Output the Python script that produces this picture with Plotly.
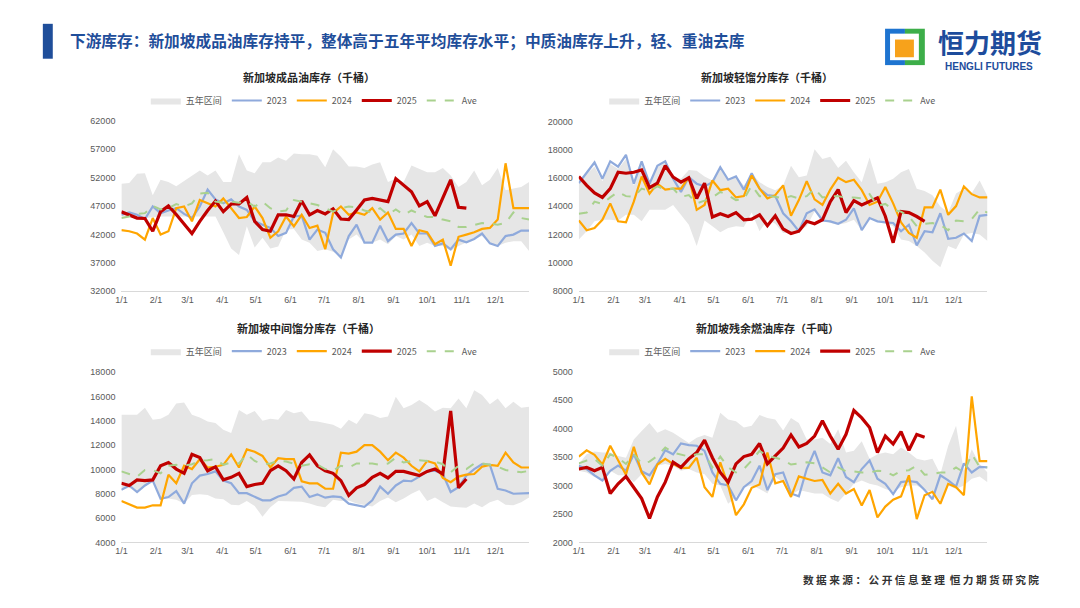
import pandas as pd
import plotly.graph_objects as go

# ── weekly x positions and month ticks ──────────────────────────────────────
WEEKS = pd.date_range("2025-01-01", periods=53, freq="7D")
MONTH_TICKS = ["2025-%02d-01" % m for m in range(1, 13)]
MONTH_LABELS = ["%d/1" % m for m in range(1, 13)]

# ── 新加坡成品油库存（千桶） ──────────────────────────────────────────────
TOTAL_LOW = [45150, 45150, 45150, 44870, 45050, 45150, 45150, 45150, 45150, 45050,
             45050, 45050, 45150, 42380, 39500, 38350, 43420, 39670, 41400, 39500,
             39850, 42850, 42960, 41080, 40530, 39090, 39380, 38920, 38230, 41080,
             41960, 40530, 40530, 41080, 40250, 41700, 41080, 41960, 39960, 40530,
             39960, 39960, 39090, 39960, 40600, 41200, 41700, 40530, 39960, 40530,
             40800, 40800, 39090]
TOTAL_HIGH = [50920, 51040, 52650, 52770, 48900, 51600, 51200, 50460, 51380, 52360,
              53230, 52360, 53230, 51200, 51200, 56100, 53230, 52770, 54670, 54670,
              55540, 54960, 56230, 56100, 56100, 55830, 53810, 56980, 55660, 53930,
              53930, 53690, 54270, 54670, 51200, 51800, 51200, 54100, 53520, 52940,
              52940, 53690, 52360, 50340, 51200, 53230, 50630, 51600, 53690, 49770,
              50050, 50340, 51200]
TOTAL_2023 = [45440, 45850, 45440, 44700, 46900, 45730, 46200, 46600, 45600, 44870,
              46900, 49880, 48150, 47460, 48150, 46900, 46300, 44300, 43700, 43130,
              41700, 42270, 45150, 45270, 41080, 42850, 42270, 39380, 37940, 41700,
              43700, 40530, 40530, 43530, 40800, 41960, 42150, 44000, 42150, 42150,
              39960, 40420, 39380, 41080, 40600, 41200, 42150, 40420, 39960, 41700,
              41960, 42670, 42670]
TOTAL_2024 = [42730, 42550, 42150, 41080, 44870, 41960, 42550, 46600, 46900, 44300,
              48040, 47460, 46900, 48330, 46600, 44870, 45050, 46900, 44870, 41400,
              42550, 45150, 43420, 45440, 43130, 43530, 39380, 45730, 46900, 45440,
              45850, 45440, 46600, 44600, 45850, 42960, 42960, 39960, 42730, 42380,
              40250, 41080, 36500, 41570, 41960, 42380, 42960, 43130, 44600, 54500,
              46600, 46600, 46600]
TOTAL_2025 = [45960, 45440, 44870, 44800, 42550, 46000, 47000, 45500, 43900, 42150,
              44300, 46200, 47860, 46000, 47340, 47340, 48500, 44300, 42850, 42550,
              45440, 45440, 45150, 47860, 45440, 46200, 45600, 46500, 44700, 44600,
              46300, 48040, 48330, 48040, 47750, 51800, 50630, 49480, 47000, 47750,
              45270, 48300, 51600, 46770, 46600]
TOTAL_AVE = [44870, 45150, 45600, 45730, 47000, 46400, 46600, 47340, 46900, 47460,
             49200, 49300, 47750, 47580, 47750, 47580, 47750, 46900, 47750, 46600,
             46000, 46200, 48040, 47750, 47580, 47170, 46600, 46000, 46600, 46900,
             46770, 46200, 45850, 46600, 45440, 46400, 45440, 46200, 45600, 45050,
             45050, 44600, 44300, 43300, 43300, 43700, 44000, 43880, 43700, 44000,
             45850, 44870, 44600]

# ── 新加坡轻馏分库存（千桶） ──────────────────────────────────────────────
LIGHT_LOW = [11660, 12240, 12940, 13050, 13050, 13000, 13400, 13400, 12940, 13750,
             13750, 13750, 14100, 13400, 12700, 11200, 13000, 12590, 12170, 12470,
             12590, 12540, 13560, 12240, 13050, 12770, 12120, 12120, 12240, 12590,
             13630, 13050, 12820, 12700, 12820, 13050, 12310, 13170, 12940, 12820,
             12590, 11660, 11550, 11200, 10740, 10160, 9690, 11200, 10970, 12010,
             12120, 12010, 11550]
LIGHT_HIGH = [15640, 16300, 16800, 15780, 17000, 16640, 17340, 15480, 17000, 15480,
              16760, 17100, 16020, 15950, 16570, 16520, 16110, 15830, 16760, 15880,
              16110, 15480, 16300, 15710, 15370, 15140, 15480, 16870, 16060, 16180,
              18030, 17340, 17500, 16710, 17220, 16410, 15710, 17450, 15600, 15710,
              15950, 16410, 16640, 15250, 15090, 14790, 13980, 13560, 14900, 15250,
              14950, 15830, 14720]
LIGHT_2023 = [15640, 16410, 17100, 15950, 17180, 16800, 17640, 15600, 17180, 15600,
              16870, 17180, 15950, 15020, 16060, 15600, 15410, 15710, 16760, 15880,
              16110, 15180, 16340, 15250, 14790, 14720, 13510, 12940, 12240, 13510,
              13790, 13000, 12940, 12770, 13050, 13860, 12310, 13170, 12940, 12870,
              12820, 12240, 12700, 11240, 12240, 12170, 13510, 11710, 11780, 12080,
              11550, 13330, 13400]
LIGHT_2024 = [13000, 12310, 12470, 13050, 14210, 12940, 12870, 14330, 16110, 14900,
              15600, 15180, 15250, 15250, 16060, 13750, 14100, 15830, 15140, 15250,
              14630, 14720, 16180, 15250, 14560, 14790, 15480, 13330, 14440, 15780,
              14490, 14100, 15180, 16020, 15710, 15880, 15140, 14100, 14330, 15370,
              14210, 12870, 12120, 11780, 13930, 13930, 15180, 13400, 14020, 15410,
              14860, 14630, 14630]
LIGHT_2025 = [16110, 15480, 14950, 14630, 15250, 16410, 16340, 16410, 16570, 15320,
              15640, 16870, 16060, 15710, 16020, 14560, 15640, 13240, 13470, 13280,
              13560, 13050, 13100, 13400, 12630, 13330, 12400, 12080, 12240, 12940,
              12770, 13050, 14330, 15180, 13560, 14400, 14100, 14330, 14600, 13300,
              11430, 13630, 13560, 13280, 12940]
LIGHT_AVE = [13470, 13560, 14330, 14170, 14630, 15020, 14720, 14670, 15250, 15090,
             15410, 15180, 15250, 14670, 14790, 14210, 14400, 14630, 15020, 14790,
             14440, 14490, 15480, 14720, 14720, 14670, 14560, 14720, 14560, 14720,
             15250, 14630, 14720, 14720, 14630, 14630, 14560, 14860, 14020, 14170,
             13750, 13630, 13280, 12590, 12770, 12820, 12700, 12310, 13000, 12940,
             13100, 13790, 13560]

# ── 新加坡中间馏分库存（千桶） ────────────────────────────────────────────
MIDDLE_LOW = [8300, 8500, 8100, 8600, 9000, 7550, 7600, 7500, 7200, 7900,
              7950, 7900, 7600, 7550, 7100, 7050, 7400, 7000, 6100, 6900,
              7400, 7400, 7400, 7350, 7200, 7000, 6900, 7500, 7400, 7450,
              7200, 7050, 6950, 7400, 7700, 7300, 7600, 8000, 8300, 7400,
              7700, 7300, 6950, 6900, 6850, 7200, 6900, 7300, 7500, 7100,
              7050, 7300, 7700]
MIDDLE_HIGH = [14490, 14490, 14490, 15080, 14080, 14160, 14490, 15430, 15510, 14490,
               14270, 13950, 13810, 13270, 13000, 14890, 14490, 14810, 14000, 14160,
               14080, 14890, 14620, 14760, 14000, 13950, 13810, 13680, 13350, 14080,
               13730, 14620, 14490, 14220, 14350, 15970, 15030, 15300, 15700, 15300,
               14760, 15080, 15030, 15840, 15030, 16510, 16110, 15350, 15840, 15030,
               15570, 15080, 15160]
MIDDLE_2023 = [8320, 8680, 8140, 8680, 9080, 7590, 7730, 8220, 7190, 8860,
               9490, 9620, 9840, 9080, 8860, 8050, 8050, 7780, 7460, 7460,
               7780, 7950, 8490, 8590, 7730, 7950, 7680, 7780, 7730, 7190,
               7050, 6920, 7460, 8590, 8000, 8680, 9080, 9030, 9410, 9840,
               9890, 9620, 8140, 8540, 9490, 10030, 10430, 10380, 8410, 8270,
               8000, 8050, 8050]
MIDDLE_2024 = [7410, 7140, 6860, 6860, 7050, 7050, 9570, 8860, 10300, 10030,
               10840, 10160, 10220, 10380, 11240, 10160, 11650, 11460, 11110, 10160,
               10920, 10840, 10840, 9030, 8860, 8860, 8410, 8410, 11380, 11300,
               11460, 12000, 12000, 11460, 10760, 11380, 10970, 10300, 9840, 10700,
               10490, 9300, 8950, 9410, 9570, 9620, 10220, 10380, 10300, 11380,
               10570, 10160, 10160]
MIDDLE_2025 = [8860, 8680, 9140, 9080, 9140, 10300, 10570, 10030, 9680, 11240,
               10970, 9890, 10220, 9140, 9350, 9680, 8590, 8760, 8860, 9890,
               10300, 9890, 9210, 10570, 11190, 10300, 9890, 9680, 9080, 7860,
               8490, 8760, 9350, 9680, 9300, 9840, 9840, 9680, 9490, 9840,
               10030, 9620, 14810, 8490, 9210]
MIDDLE_AVE = [9840, 9620, 9410, 9950, 9950, 9680, 10300, 10380, 10300, 10430,
              10700, 10760, 10840, 10380, 10570, 10490, 11240, 10700, 10430, 10490,
              10700, 10650, 10490, 10300, 10430, 10380, 10030, 9890, 10300, 10160,
              10490, 10490, 10490, 10380, 10490, 10970, 10570, 10700, 10760, 10700,
              10650, 10430, 9760, 10300, 10030, 10490, 10490, 10380, 10220, 9950,
              9840, 9760, 9890]

# ── 新加坡残余燃油库存（千吨） ────────────────────────────────────────────
RESID_LOW = [3260, 3230, 3150, 3120, 3260, 3180, 3180, 3060, 3200, 3090,
             3350, 3380, 3350, 3260, 3290, 3230, 3200, 3030, 3000, 2680,
             2800, 2970, 3000, 2940, 2860, 3150, 3060, 2830, 2920, 2890,
             2860, 2860, 2770, 2710, 2860, 3030, 3090, 3030, 3000, 2940,
             2890, 2970, 3000, 3000, 2920, 2890, 2740, 3000, 2940, 3000,
             3120, 3160, 3060]
RESID_HIGH = [3380, 3550, 3600, 3580, 3580, 3520, 3490, 3810, 3960, 4100,
              3930, 3990, 3930, 3840, 3750, 3840, 3890, 3840, 4280, 4160,
              4130, 4020, 4050, 4240, 4190, 4160, 3970, 4190, 4100, 3810,
              3810, 3840, 3730, 3990, 3580, 3610, 3780, 3470, 3550, 3580,
              3550, 3670, 3580, 3470, 3440, 3470, 3200, 3700, 4050, 3260,
              3640, 3380, 3230]
RESID_2023 = [3350, 3290, 3180, 3090, 3260, 3350, 3260, 3550, 3250, 3180,
              3380, 3620, 3550, 3740, 3710, 3700, 3610, 3230, 3030, 3000,
              2740, 2970, 3080, 3350, 2920, 3200, 3230, 2860, 2810, 3290,
              3610, 3230, 3180, 3480, 3150, 3060, 3290, 3440, 3120, 3030,
              2850, 3060, 3080, 3060, 2920, 2760, 3180, 3090, 2980, 3390,
              3230, 3330, 3320]
RESID_2024 = [3510, 3620, 3540, 3370, 3700, 3440, 3190, 3680, 3230, 3020,
              3370, 3470, 3380, 3310, 3310, 3490, 2970, 2800, 3410, 3000,
              2480, 2670, 2960, 3020, 3580, 3040, 3080, 2800, 3160, 3120,
              3080, 3100, 2860, 3030, 2860, 2940, 2650, 2920, 2440, 2630,
              2750, 2810, 3180, 2410, 2830, 2890, 2680, 3030, 2970, 2830,
              4570, 3430, 3430]
RESID_2025 = [3290, 3320, 3260, 3320, 2860, 3030, 3160, 2970, 2770, 2420,
              2800, 3060, 3410, 3320, 3470, 3580, 3800, 3490, 3230, 3060,
              3380, 3510, 3550, 3740, 3380, 3520, 3660, 3890, 3680, 3740,
              3870, 4140, 3870, 3640, 3900, 4320, 4190, 4020, 3580, 3870,
              3730, 3950, 3620, 3900, 3850]
RESID_AVE = [3390, 3440, 3470, 3350, 3550, 3490, 3380, 3550, 3390, 3420,
             3520, 3670, 3580, 3540, 3510, 3550, 3550, 3320, 3510, 3320,
             3230, 3290, 3440, 3610, 3520, 3490, 3450, 3370, 3390, 3410,
             3390, 3320, 3230, 3320, 3250, 3250, 3230, 3230, 3260, 3250,
             3180, 3260, 3270, 3350, 3190, 3200, 3230, 3230, 3320, 3230,
             3550, 3330, 3320]

# ── styles ───────────────────────────────────────────────────────────────────
BAND_COLOR = "#E6E6E6"
C2023 = "#8FAADC"
C2024 = "#FFA500"
C2025 = "#C00000"
CAVE = "#A9D18E"
TICK_FONT = dict(family="Liberation Sans, Arial, sans-serif", size=9, color="#595959")
CJK = "Noto Sans CJK SC"

# the page adds an 8px body margin round the figure, so the figure is sized
# 1064x592 and everything is placed by window pixel through these helpers
FIG_W, FIG_H, PAD = 1064, 592, 8


def X(px):
    return (px - PAD) / FIG_W


def Y(py):
    return 1 - (py - PAD) / FIG_H


# panel: (title, data, y-range, dtick, x px, y px, title xy px, legend xy px)
PANELS = [
    ("新加坡成品油库存（千桶）",
     (TOTAL_LOW, TOTAL_HIGH, TOTAL_2023, TOTAL_2024, TOTAL_2025, TOTAL_AVE),
     [32000, 62000], 5000, (116, 526), (117.5, 291), (305, 73), (310, 97)),
    ("新加坡轻馏分库存（千桶）",
     (LIGHT_LOW, LIGHT_HIGH, LIGHT_2023, LIGHT_2024, LIGHT_2025, LIGHT_AVE),
     [8000, 20000], 2000, (576, 987), (118.3, 291), (765, 73), (771, 97)),
    ("新加坡中间馏分库存（千桶）",
     (MIDDLE_LOW, MIDDLE_HIGH, MIDDLE_2023, MIDDLE_2024, MIDDLE_2025, MIDDLE_AVE),
     [4000, 18000], 2000, (116, 526), (373.3, 546.5), (304, 328), (310, 352)),
    ("新加坡残余燃油库存（千吨）",
     (RESID_LOW, RESID_HIGH, RESID_2023, RESID_2024, RESID_2025, RESID_AVE),
     [2000, 5000], 500, (576, 987), (373, 546.5), (766, 328), (771, 352)),
]

fig = go.Figure()
layout = {}
annotations = []

for i, (title, data, yr, dt, xpx, ypx, tpx, lpx) in enumerate(PANELS, start=1):
    low, high, y23, y24, y25, ave = data
    xa, ya = ("x", "y") if i == 1 else ("x%d" % i, "y%d" % i)
    leg = "legend" if i == 1 else "legend%d" % i
    common = dict(xaxis=xa, yaxis=ya, legend=leg)

    fig.add_trace(go.Scatter(x=WEEKS, y=low, mode="lines", line=dict(width=0),
                             showlegend=False, hoverinfo="skip", **common))
    fig.add_trace(go.Scatter(x=WEEKS, y=high, mode="lines", line=dict(width=0),
                             fill="tonexty", fillcolor=BAND_COLOR, name="五年区间", **common))
    fig.add_trace(go.Scatter(x=WEEKS, y=y23, mode="lines", name="2023",
                             line=dict(color=C2023, width=2.2), **common))
    fig.add_trace(go.Scatter(x=WEEKS, y=y24, mode="lines", name="2024",
                             line=dict(color=C2024, width=2.2), **common))
    fig.add_trace(go.Scatter(x=WEEKS[:len(y25)], y=y25, mode="lines", name="2025",
                             line=dict(color=C2025, width=3.2), **common))
    fig.add_trace(go.Scatter(x=WEEKS, y=ave, mode="lines", name="Ave",
                             line=dict(color=CAVE, width=2, dash="dash"), **common))

    xkey = "xaxis" if i == 1 else "xaxis%d" % i
    ykey = "yaxis" if i == 1 else "yaxis%d" % i
    layout[xkey] = dict(
        domain=[X(xpx[0]), X(xpx[1])], anchor=ya, type="date",
        range=["2025-01-01", "2025-12-31"],
        tickvals=MONTH_TICKS, ticktext=MONTH_LABELS,
        showgrid=False, zeroline=False, showline=True,
        linecolor="#D9D9D9", linewidth=1, ticks="",
        tickfont=TICK_FONT,
    )
    layout[ykey] = dict(
        domain=[Y(ypx[1]), Y(ypx[0])], anchor=xa, range=yr, dtick=dt, tick0=yr[0],
        tickformat="d", showgrid=False, zeroline=False, showline=False, ticks="",
        tickfont=TICK_FONT, ticklabelstandoff=5,
    )
    layout[leg] = dict(
        orientation="h", x=X(lpx[0]), y=Y(lpx[1]), xanchor="center", yanchor="middle",
        font=dict(family=CJK, size=9, color="#595959"), traceorder="normal",
        bgcolor="rgba(0,0,0,0)", itemwidth=30, tracegroupgap=0,
    )
    annotations.append(dict(
        text="<b>%s</b>" % title, x=X(tpx[0]), y=Y(tpx[1]), xref="paper", yref="paper",
        xanchor="center", yanchor="middle", showarrow=False,
        font=dict(family=CJK, size=11, color="#262626"),
    ))

# ── header, logo, source ────────────────────────────────────────────────────
annotations += [
    dict(text="<b>下游库存：新加坡成品油库存持平，整体高于五年平均库存水平；中质油库存上升，轻、重油去库</b>",
         x=X(62), y=Y(36), xref="paper", yref="paper",
         xanchor="left", yanchor="middle", showarrow=False,
         font=dict(family=CJK, size=15.7, color="#1F4E9A")),
    dict(text="<b>恒力期货</b>", x=X(990), y=Y(37), xref="paper", yref="paper",
         xanchor="center", yanchor="middle", showarrow=False,
         font=dict(family=CJK, size=26, color="#1D4C9C")),
    dict(text="<b>HENGLI FUTURES</b>", x=X(989), y=Y(62), xref="paper", yref="paper",
         xanchor="center", yanchor="middle", showarrow=False,
         font=dict(family="Liberation Sans, Arial", size=10, color="#1D4C9C")),
    dict(text="<b>数 据 来 源 ： 公 开 信 息 整 理  恒 力 期 货 研 究 院</b>",
         x=X(1041), y=Y(584), xref="paper", yref="paper",
         xanchor="right", yanchor="middle", showarrow=False,
         font=dict(family=CJK, size=10.7, color="#333333")),
]


def px_rect(x0, y0, x1, y1, color):
    return dict(type="rect", xref="paper", yref="paper",
                x0=X(x0), x1=X(x1), y0=Y(y1), y1=Y(y0),
                fillcolor=color, line=dict(width=0), layer="above")


shapes = [
    px_rect(37, 19, 47, 54.5, "#1F4E9A"),
    px_rect(884, 24, 904, 61, "#1E74D0"),
    px_rect(904, 24, 924, 61, "#3DAE49"),
    px_rect(889, 29, 918, 56, "#FFFFFF"),
    px_rect(894, 35, 913, 53, "#F7A21B"),
]

fig.update_layout(
    width=FIG_W, height=FIG_H,
    margin=dict(l=0, r=0, t=0, b=0),
    paper_bgcolor="white", plot_bgcolor="white",
    font=dict(family="Liberation Sans, " + CJK),
    annotations=annotations, shapes=shapes,
    **layout,
)

fig.write_html("out.html", config={"displayModeBar": False})
